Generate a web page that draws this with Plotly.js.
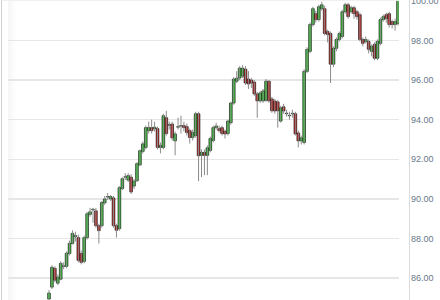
<!DOCTYPE html>
<html>
<head>
<meta charset="utf-8">
<script src="https://cdn.plot.ly/plotly-3.0.1.min.js"></script>
<style>
html,body{margin:0;padding:0;background:#fff;}
#chart{width:440px;height:300px;}
</style>
</head>
<body>
<div id="chart"></div>
<script>
const opens = [84.95,85.55,86.50,85.75,85.95,86.60,86.60,87.25,87.75,88.10,88.05,87.25,86.85,88.05,89.22,89.45,89.40,88.65,88.65,89.80,
90.10,90.00,90.05,88.65,88.50,90.52,91.10,90.95,91.10,90.65,90.92,91.72,92.40,92.60,93.45,93.60,93.55,93.55,92.60,92.60,
94.10,93.72,93.78,92.93,93.62,93.68,93.70,93.65,93.45,93.10,93.20,94.30,92.20,92.35,92.20,92.45,92.95,93.60,93.55,93.60,
93.42,93.30,93.85,94.84,95.94,96.10,96.20,96.55,96.05,96.00,95.90,95.30,94.95,94.95,94.98,95.94,95.05,94.94,94.90,93.93,
94.65,94.30,94.20,94.30,94.30,93.33,92.93,92.85,96.44,97.45,98.80,99.35,99.05,99.60,99.60,98.45,98.35,96.80,97.60,98.05,
98.20,99.45,99.80,99.45,99.65,99.45,99.30,98.05,97.95,97.95,97.45,97.80,97.10,97.85,99.05,99.30,99.35,98.95,98.80,98.85];
const highs = [85.40,86.65,86.60,86.20,86.85,86.80,87.35,87.90,88.42,88.35,88.20,87.40,88.15,89.35,89.55,89.55,89.55,88.75,89.90,90.15,
90.30,90.20,90.15,88.75,90.65,91.10,91.30,91.30,91.25,91.00,91.85,92.50,92.90,93.70,93.90,94.00,93.90,93.65,92.85,94.30,
94.45,93.90,93.90,93.40,94.10,94.20,93.90,93.80,93.55,93.50,94.40,94.40,92.50,92.50,92.70,93.15,93.70,93.85,93.70,93.70,
93.50,94.00,94.90,96.15,96.45,96.70,96.75,96.70,96.45,96.10,96.00,95.40,95.45,95.55,96.05,96.00,95.15,95.05,95.00,94.70,
94.80,94.50,94.40,94.50,94.40,93.45,93.20,96.55,97.65,98.90,99.70,99.50,99.80,99.95,99.75,98.55,98.45,97.70,98.15,98.45,
99.55,99.90,99.90,99.75,99.75,99.55,99.40,98.15,98.20,98.05,97.80,97.90,98.05,99.15,99.30,99.40,99.45,99.05,99.10,100.40];
const lows = [84.80,85.45,85.80,85.65,85.90,86.45,86.50,87.15,87.70,87.85,86.80,86.70,86.75,87.95,89.10,88.80,88.55,87.75,88.55,89.70,
89.95,89.90,88.55,88.05,88.40,90.45,90.95,90.85,90.25,90.50,90.85,91.65,92.30,92.50,93.30,93.30,93.40,92.50,92.30,92.50,
93.20,93.50,92.95,92.20,93.50,93.30,93.40,93.20,92.80,92.95,93.10,90.90,91.10,91.20,91.20,92.35,92.85,93.50,93.35,93.20,
93.05,93.20,93.75,94.75,95.85,96.00,96.10,95.75,95.55,95.60,95.20,94.10,94.85,94.85,94.90,94.85,94.35,94.30,93.60,93.85,
94.30,94.15,94.00,94.10,93.20,92.60,92.75,92.75,96.35,97.35,98.70,98.90,98.95,99.50,98.25,97.90,95.85,96.65,97.45,97.95,
98.10,99.35,99.10,99.35,99.10,99.05,97.95,97.70,97.85,97.35,97.20,97.00,97.00,97.75,98.95,98.90,98.65,98.60,98.50,98.75];
const closes = [85.25,86.55,85.90,86.05,86.75,86.62,87.26,87.76,88.26,88.15,86.90,86.80,88.05,89.25,89.35,89.48,88.65,88.40,89.82,90.00,
90.12,90.12,88.65,88.42,90.57,91.02,91.12,91.18,90.35,90.90,91.78,92.43,92.78,93.60,93.60,93.45,93.62,92.60,92.70,94.20,
93.30,93.75,93.08,93.28,93.65,93.70,93.60,93.35,93.10,93.35,94.30,92.18,92.35,92.20,92.58,93.05,93.60,93.68,93.45,93.30,
93.28,93.93,94.84,96.05,96.09,96.60,96.60,95.85,95.80,95.85,95.30,94.95,95.35,95.45,95.94,94.95,94.45,94.44,94.45,94.60,
94.44,94.33,94.22,94.32,93.28,92.93,93.08,96.44,97.55,98.80,99.60,99.05,99.70,99.80,98.35,98.30,96.80,97.60,98.05,98.35,
99.45,99.80,99.20,99.65,99.35,99.20,98.05,97.85,98.05,97.55,97.70,97.10,97.95,99.05,99.20,99.10,98.80,98.80,98.95,100.20];
const tickValues = [86, 88, 90, 92, 94, 96, 98, 100];
const tickLabels = ["86.00","88.00","90.00","92.00","94.00","96.00","98.00","100.00"];

const idx = opens.map((_, i) => i);
const wx = [], wy = [];
idx.forEach(i => { wx.push(i, i, null); wy.push(highs[i], lows[i], null); });

const wicks = {
  type: 'scatter', mode: 'lines', x: wx, y: wy,
  line: {color: '#8a8a8a', width: 1}, hoverinfo: 'skip', showlegend: false
};
const bodies = {
  type: 'bar', x: idx,
  base: idx.map(i => Math.min(opens[i], closes[i])),
  y: idx.map(i => Math.max(Math.abs(closes[i] - opens[i]), 0.02)),
  width: 0.92,
  marker: {
    color: idx.map(i => closes[i] >= opens[i] ? '#1fcf1f' : '#d01212'),
    line: {color: '#202020', width: 0.7}
  },
  showlegend: false, hoverinfo: 'skip'
};

const plotL = 8, plotR = 399;
const pxPer = (398 - 49) / (opens.length - 1);
const xr = [-(49 - plotL) / pxPer, (opens.length - 1) + (plotR - 398) / pxPer];

const shapes = [
  {type: 'line', xref: 'paper', yref: 'paper', x0: (1.5 - plotL) / (plotR - plotL), x1: (1.5 - plotL) / (plotR - plotL), y0: 0, y1: 1, line: {color: '#d0d0d0', width: 1}},
  {type: 'line', xref: 'paper', yref: 'paper', x0: (409.5 - plotL) / (plotR - plotL), x1: (409.5 - plotL) / (plotR - plotL), y0: 0, y1: 1, line: {color: '#dcdcdc', width: 1}},
  {type: 'line', xref: 'paper', yref: 'paper', x0: (1.5 - plotL) / (plotR - plotL), x1: 1, y0: 0.998, y1: 0.998, line: {color: '#f0f0f0', width: 1}}
];
for (let k = 0; k < 8; k++) {
  shapes.push({type: 'rect', xref: 'paper', yref: 'paper', layer: 'below',
    x0: k / (plotR - plotL), x1: (k + 1) / (plotR - plotL), y0: 0, y1: 1,
    fillcolor: 'rgba(0,0,0,' + (0.035 * (1 - k / 8)).toFixed(4) + ')', line: {width: 0}});
}

const layout = {
  width: 440, height: 300,
  margin: {l: plotL, r: 440 - plotR, t: 0, b: 0, pad: 0},
  paper_bgcolor: '#ffffff', plot_bgcolor: '#ffffff',
  showlegend: false,
  barmode: 'overlay',
  xaxis: {range: xr, visible: false, fixedrange: true},
  yaxis: {
    range: [84.9, 100.04], side: 'right',
    tickvals: tickValues, ticktext: tickLabels,
    showgrid: true, gridcolor: '#e6e6e6', gridwidth: 1.5,
    zeroline: false, showline: false, ticks: '',
    ticklabelstandoff: 11, ticklabeloverflow: 'allow',
    tickfont: {family: 'Liberation Sans, Arial, sans-serif', size: 9, color: '#687888'}
  },
  shapes: shapes
};

Plotly.newPlot('chart', [wicks, bodies], layout, {displayModeBar: false, staticPlot: true});
</script>
</body>
</html>
